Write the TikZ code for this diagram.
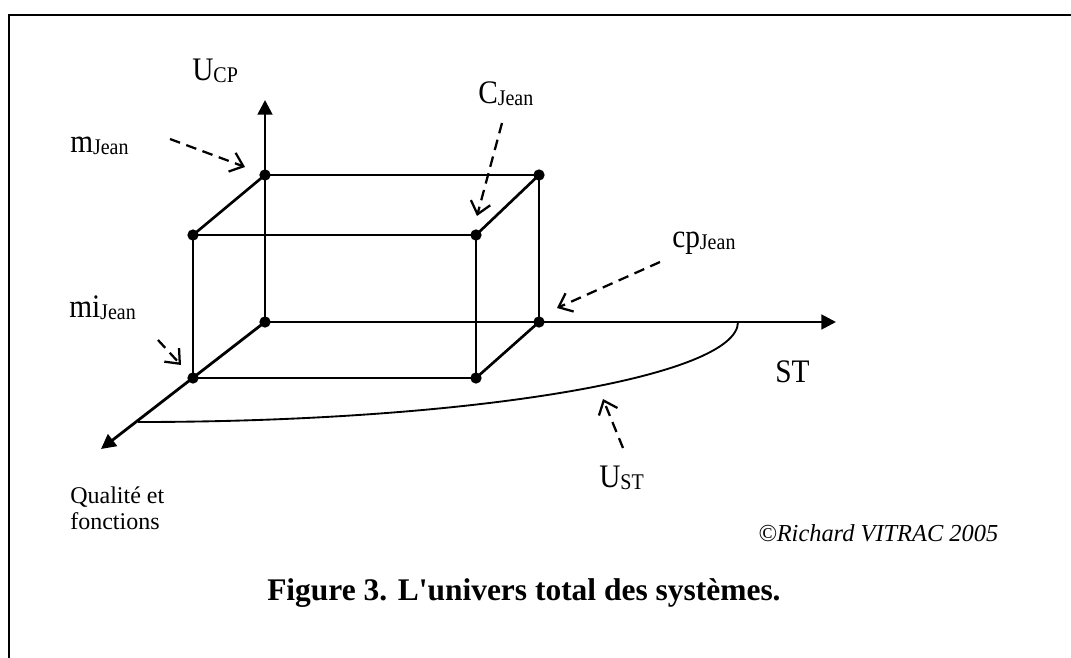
\documentclass[tikz,border=0pt]{standalone}
\usepackage{fontspec}
\setmainfont{Liberation Serif}[Ligatures=TeXOff]
\usetikzlibrary{arrows.meta}
\newcommand\lowsub[1]{\raisebox{-2pt}{\fontsize{15}{15}\selectfont #1}}
\newcommand\talltxt[1]{\scalebox{1}[1.12]{#1}}
\begin{document}
\begin{tikzpicture}[x=0.75pt,y=-0.75pt,
  frame/.style={line width=1.5pt, line cap=rect},
  axis/.style={line width=2.1pt,-{Triangle[length=11pt,width=11pt]}},
  thickedge/.style={line width=2pt},
  thinedge/.style={line width=1.4pt},
  pt/.style={circle,fill=black,inner sep=0pt,minimum size=8.5pt},
  pointer/.style={line width=1.7pt,dash pattern=on 8pt off 5pt,
    -{Straight Barb[length=9pt,width=15pt,line width=1.7pt]}},
  lbl/.style={inner sep=0pt,anchor=base west,font=\fontsize{22}{24}\selectfont},
  small/.style={inner sep=0pt,anchor=base west,font=\fontsize{18}{19}\selectfont,align=left},
]
\useasboundingbox (0,0) rectangle (1071,657);
% frame
\draw[frame] (1071,15) -- (9,15) -- (9,657);

% box corners
\node[pt] (O)  at (265,322) {};
\node[pt] (BT) at (265,175) {};
\node[pt] (BTR) at (539,175) {};
\node[pt] (BBR) at (539,322) {};
\node[pt] (FTL) at (193,235) {};
\node[pt] (FTR) at (476,235) {};
\node[pt] (FBL) at (193,378) {};
\node[pt] (FBR) at (476,378) {};

% axis tips
\coordinate (Ytip) at (265,100);
\coordinate (Xtip) at (836,322);
\coordinate (Ztip) at (101,449);

\draw[axis] (O.center) -- (Ytip);
\draw[axis] (O.center) -- (Xtip);
\draw[axis] (O.center) -- (Ztip);

% box edges
\draw[thinedge] (BT.center) -- (BTR.center);
\draw[thinedge] (BTR.center) -- (BBR.center);
\draw[thickedge] (BT.center) -- (FTL.center);
\draw[thickedge] (BTR.center) -- (FTR.center);
\draw[thickedge] (BBR.center) -- (FBR.center);
\draw[thinedge] (FTL.center) -- (FTR.center);
\draw[thinedge] (FTL.center) -- (FBL.center);
\draw[thinedge] (FTR.center) -- (FBR.center);
\draw[thickedge] (FBL.center) -- (FBR.center);

% U_ST curve
\coordinate (Cs) at (138,422);
\coordinate (Ce) at (738,322);
\draw[thinedge] (Cs) .. controls (469,422) and (738,377) .. (Ce);

% labels
\node[lbl] (lUCP) at (192,80) {\talltxt{U\lowsub{CP}}};
\node[lbl] (lm)   at (70,152) {\talltxt{m\lowsub{Jean}}};
\node[lbl] (lC)   at (478,103) {\talltxt{C\lowsub{Jean}}};
\node[lbl] (lcp)  at (672,247) {\talltxt{cp\lowsub{Jean}}};
\node[lbl] (lmi)  at (69,317) {\talltxt{mi\lowsub{Jean}}};
\node[lbl] (lST)  at (775,382) {\talltxt{ST}};
\node[lbl] (lUST) at (599,487) {\talltxt{U\lowsub{ST}}};
\node[small] (lQ) at (70,529) {Qualité et\\fonctions};
\node[inner sep=0pt,anchor=base west,font=\fontsize{18.3}{20}\selectfont\itshape] (lcopy) at (758,541) {©Richard VITRAC 2005};
\node[inner sep=0pt,anchor=base west,font=\fontsize{23.6}{25}\selectfont\bfseries] (lcap) at (267,600) {Figure 3. L'univers total des systèmes.};

% dashed pointers
\coordinate (pm0) at (170,139);  \coordinate (pm1) at (245,167);
\coordinate (pC0) at (502,123);  \coordinate (pC1) at (477,216);
\coordinate (pcp0) at (660,262); \coordinate (pcp1) at (557,308);
\coordinate (pmi0) at (158,340); \coordinate (pmi1) at (181,365);
\coordinate (pU0) at (623,448);  \coordinate (pU1) at (603,399);
\draw[pointer] (pm0) -- (pm1);
\draw[pointer] (pC0) -- (pC1);
\draw[pointer] (pcp0) -- (pcp1);
\draw[pointer] (pmi0) -- (pmi1);
\draw[pointer] (pU0) -- (pU1);
\end{tikzpicture}
\end{document}
